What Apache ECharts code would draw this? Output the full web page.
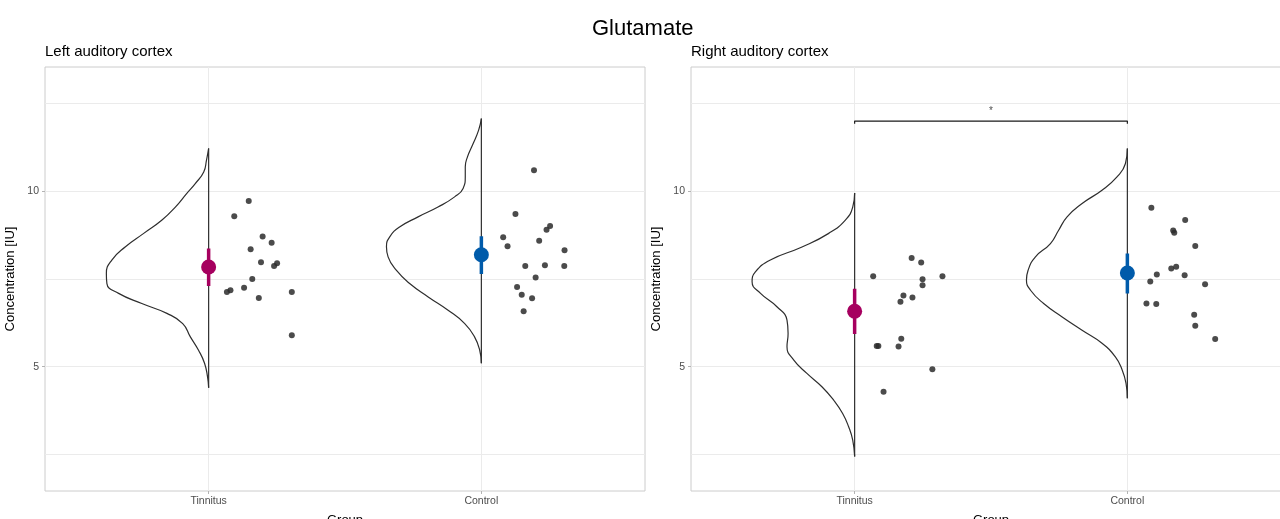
<!DOCTYPE html>
<html>
<head>
<meta charset="utf-8">
<title>Glutamate</title>
<script src="https://cdn.jsdelivr.net/npm/echarts@6/dist/echarts.min.js"></script>
<style>
  html, body { margin: 0; padding: 0; background: #ffffff; }
  #chart { width: 1280px; height: 519px; }
</style>
</head>
<body>
<div id="chart"></div>
<script>
// ---- data ----------------------------------------------------------------
const groups = ['Tinnitus', 'Control'];
const yTicks = [5, 10];
const yGrid = [2.5, 5, 7.5, 10, 12.5];

// individual subjects: concentration and horizontal jitter (in group units)
const leftTinnitusY = [9.72, 9.29, 8.71, 8.53, 8.35, 7.98, 7.95, 7.87, 7.50, 7.25, 7.18, 7.13, 6.96, 7.13, 5.90];
const leftTinnitusJ = [0.147, 0.094, 0.198, 0.231, 0.154, 0.192, 0.251, 0.240, 0.160, 0.130, 0.080, 0.067, 0.184, 0.305, 0.305];
const leftControlY = [10.60, 9.35, 9.01, 8.90, 8.69, 8.59, 8.43, 8.32, 7.87, 7.89, 7.87, 7.54, 7.27, 7.05, 6.95, 6.58];
const leftControlJ = [0.193, 0.125, 0.252, 0.239, 0.080, 0.212, 0.096, 0.305, 0.161, 0.233, 0.304, 0.199, 0.131, 0.148, 0.186, 0.155];
const rightTinnitusY = [8.10, 7.97, 7.58, 7.58, 7.49, 7.32, 7.03, 6.97, 6.85, 5.80, 5.59, 5.59, 5.58, 4.93, 4.29];
const rightTinnitusJ = [0.209, 0.244, 0.068, 0.322, 0.249, 0.249, 0.179, 0.212, 0.168, 0.171, 0.087, 0.081, 0.161, 0.285, 0.106];
const rightControlY = [9.53, 9.18, 8.88, 8.82, 8.44, 7.80, 7.85, 7.63, 7.61, 7.43, 7.35, 6.80, 6.79, 6.48, 6.17, 5.79];
const rightControlJ = [0.088, 0.212, 0.168, 0.172, 0.249, 0.161, 0.179, 0.108, 0.210, 0.084, 0.285, 0.070, 0.106, 0.245, 0.249, 0.322];

// group means with 95% confidence interval
const leftMean = [7.84, 8.19];
const leftLow = [7.30, 7.64];
const leftHigh = [8.37, 8.72];
const rightMean = [6.58, 7.67];
const rightLow = [5.93, 7.09];
const rightHigh = [7.22, 8.23];

// half-violin density outlines: [concentration, half width in group units]
const leftTinnitusDensity = [
  [11.22, 0], [10.88, 0.008], [10.55, 0.018], [10.22, 0.049], [9.94, 0.080], [9.55, 0.122],
  [9.18, 0.171], [8.80, 0.238], [8.42, 0.305], [8.04, 0.355], [7.66, 0.375], [7.37, 0.373],
  [7.09, 0.330], [6.80, 0.245], [6.52, 0.153], [6.23, 0.095], [5.85, 0.067], [5.47, 0.037],
  [5.10, 0.015], [4.71, 0.004], [4.40, 0]
];
const leftControlDensity = [
  [12.07, 0], [11.74, 0.010], [11.36, 0.030], [10.98, 0.051], [10.69, 0.059], [10.41, 0.059],
  [10.08, 0.067], [9.84, 0.098], [9.55, 0.159], [9.27, 0.232], [8.98, 0.300], [8.70, 0.336],
  [8.42, 0.348], [8.13, 0.342], [7.75, 0.312], [7.37, 0.263], [6.99, 0.195], [6.61, 0.122],
  [6.23, 0.061], [5.85, 0.025], [5.47, 0.006], [5.10, 0]
];
const rightTinnitusDensity = [
  [9.95, 0], [9.55, 0.007], [9.18, 0.034], [8.80, 0.095], [8.41, 0.193], [8.04, 0.309],
  [7.70, 0.364], [7.42, 0.376], [7.09, 0.345], [6.71, 0.285], [6.33, 0.248], [5.95, 0.244],
  [5.57, 0.248], [5.19, 0.223], [4.81, 0.175], [4.43, 0.120], [4.05, 0.077], [3.67, 0.044],
  [3.29, 0.022], [2.91, 0.007], [2.44, 0]
];
const rightControlDensity = [
  [11.22, 0], [10.79, 0.007], [10.41, 0.038], [10.03, 0.093], [9.65, 0.166], [9.27, 0.221],
  [8.89, 0.252], [8.51, 0.282], [8.13, 0.337], [7.75, 0.364], [7.47, 0.370], [7.18, 0.355],
  [6.80, 0.307], [6.42, 0.239], [6.04, 0.166], [5.67, 0.093], [5.28, 0.044], [4.91, 0.019],
  [4.53, 0.005], [4.10, 0]
];

// significance bracket in the right panel
const sigFrom = 'Tinnitus';
const sigTo = 'Control';
const sigLevel = 12.0;
const sigLabel = '*';

// ---- styling ---------------------------------------------------------------
const FONT = '"Liberation Sans", Arial, Helvetica, sans-serif';
const GROUP_COLORS = ['#A6005F', '#005BAA'];
const OUTLINE = '#2e2e2e';
const Y_MIN = 1.46, Y_MAX = 13.54;
const X_MIN = 0.4, X_MAX = 2.6;

const panels = [
  {
    title: 'Left auditory cortex',
    points: [[leftTinnitusY, leftTinnitusJ], [leftControlY, leftControlJ]],
    density: [leftTinnitusDensity, leftControlDensity],
    mean: leftMean, low: leftLow, high: leftHigh,
    sig: false, left: 45
  },
  {
    title: 'Right auditory cortex',
    points: [[rightTinnitusY, rightTinnitusJ], [rightControlY, rightControlJ]],
    density: [rightTinnitusDensity, rightControlDensity],
    mean: rightMean, low: rightLow, high: rightHigh,
    sig: true, left: 691
  }
];

const grid = [], xAxis = [], yAxis = [], series = [], graphic = [];

graphic.push({
  type: 'text', left: 652 - 60, top: 18,
  style: { text: 'Glutamate', font: '22px ' + FONT, fill: '#000', width: 120, align: 'center' }
});

panels.forEach((p, i) => {
  grid.push({
    left: p.left, top: 67, width: 600, height: 424,
    outerBoundsMode: 'none', containLabel: false,
    show: true, borderColor: '#cccccc', borderWidth: 1, backgroundColor: 'transparent'
  });
  graphic.push({
    type: 'text', left: p.left, top: 44,
    style: { text: p.title, font: '15px ' + FONT, fill: '#000' }
  });

  xAxis.push({
    type: 'value', gridIndex: i, min: X_MIN, max: X_MAX,
    name: 'Group', nameLocation: 'middle', nameGap: 23,
    nameTextStyle: { fontFamily: FONT, fontSize: 13, color: '#000' },
    axisLine: { show: false },
    axisTick: { show: true, customValues: [1, 2], length: 3, lineStyle: { color: '#b3b3b3' } },
    axisLabel: {
      customValues: [1, 2], margin: 5,
      fontFamily: FONT, fontSize: 10.5, color: '#4d4d4d',
      formatter: v => groups[Math.round(v) - 1]
    },
    splitLine: { show: true, lineStyle: { color: '#ebebeb', width: 1 } }
  });

  // labelled axis (ticks at 5 and 10)
  yAxis.push({
    type: 'value', gridIndex: i, min: Y_MIN, max: Y_MAX,
    name: 'Concentration [IU]', nameLocation: 'middle', nameGap: 28,
    nameTextStyle: { fontFamily: FONT, fontSize: 13, color: '#000' },
    axisLine: { show: false },
    axisTick: { show: true, customValues: yTicks, length: 3, lineStyle: { color: '#b3b3b3' } },
    axisLabel: { customValues: yTicks, margin: 6, fontFamily: FONT, fontSize: 10.5, color: '#4d4d4d' },
    splitLine: { show: false }
  });
  // grid-line axis (major and minor lines)
  yAxis.push({
    type: 'value', gridIndex: i, min: Y_MIN, max: Y_MAX,
    axisLine: { show: false },
    axisTick: { show: false, customValues: yGrid },
    axisLabel: { show: false, customValues: yGrid },
    splitLine: { show: true, lineStyle: { color: '#ebebeb', width: 1 } }
  });

  const yIdx = i * 2;

  groups.forEach((g, k) => {
    const pos = k + 1;
    const dens = p.density[k];
    // half violin outline, drawn to the left of the group position
    series.push({
      type: 'line', xAxisIndex: i, yAxisIndex: yIdx, silent: true,
      data: dens.map(d => [pos - d[1], d[0]]),
      smooth: 0.5, symbol: 'none',
      lineStyle: { color: OUTLINE, width: 1.2 }, z: 3
    });
    series.push({
      type: 'line', xAxisIndex: i, yAxisIndex: yIdx, silent: true,
      data: [[pos, dens[0][0]], [pos, dens[dens.length - 1][0]]],
      symbol: 'none', lineStyle: { color: OUTLINE, width: 1.2 }, z: 3
    });
    // subjects
    const ys = p.points[k][0], js = p.points[k][1];
    series.push({
      type: 'scatter', xAxisIndex: i, yAxisIndex: yIdx,
      data: ys.map((v, n) => [pos + js[n], v]),
      symbolSize: 6, itemStyle: { color: '#2b2b2b', opacity: 0.85 }, z: 4
    });
    // confidence interval
    series.push({
      type: 'line', xAxisIndex: i, yAxisIndex: yIdx, silent: true,
      data: [[pos, p.low[k]], [pos, p.high[k]]],
      symbol: 'none', lineStyle: { color: GROUP_COLORS[k], width: 3.5, cap: 'butt' }, z: 5
    });
    // mean
    series.push({
      type: 'scatter', xAxisIndex: i, yAxisIndex: yIdx,
      data: [[pos, p.mean[k]]],
      symbolSize: 15, itemStyle: { color: GROUP_COLORS[k], opacity: 1 }, z: 6
    });
  });

  if (p.sig) {
    const a = groups.indexOf(sigFrom) + 1, b = groups.indexOf(sigTo) + 1;
    series.push({
      type: 'line', xAxisIndex: i, yAxisIndex: yIdx, silent: true,
      data: [[a, sigLevel - 0.08], [a, sigLevel], [b, sigLevel], [b, sigLevel - 0.08]],
      symbol: 'none', lineStyle: { color: '#1a1a1a', width: 1.2 }, z: 3
    });
    series.push({
      type: 'scatter', xAxisIndex: i, yAxisIndex: yIdx, silent: true,
      data: [[(a + b) / 2, sigLevel + 0.28]],
      symbolSize: 1, itemStyle: { color: 'transparent' },
      label: {
        show: true, position: 'inside', formatter: sigLabel,
        fontFamily: FONT, fontSize: 10, color: '#1a1a1a'
      }, z: 3
    });
  }
});

const chart = echarts.init(document.getElementById('chart'), null, { renderer: 'canvas' });
chart.setOption({
  animation: false,
  backgroundColor: '#ffffff',
  grid, xAxis, yAxis, series, graphic
});
</script>
</body>
</html>
